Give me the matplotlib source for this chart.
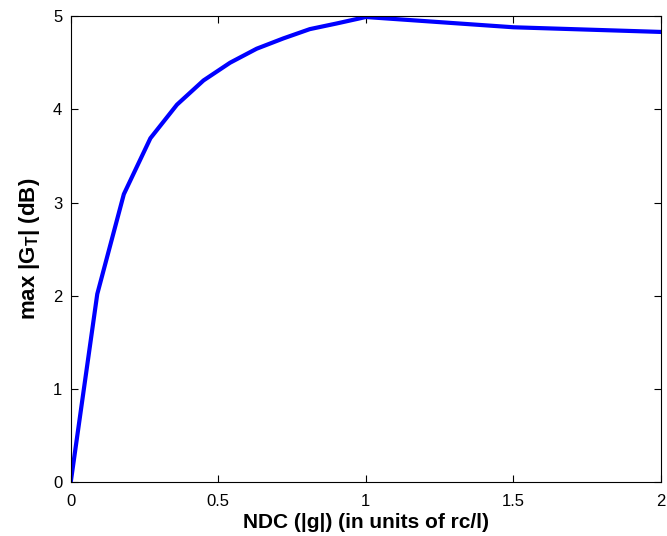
import numpy as np
from matplotlib import pyplot as plt

plt.rcParams['font.family'] = ['Liberation Sans', 'DejaVu Sans']
plt.rcParams['mathtext.fontset'] = 'custom'
plt.rcParams['mathtext.rm'] = 'Liberation Sans'
plt.rcParams['mathtext.bf'] = 'Liberation Sans:bold'

## NDC values (units of rc/l) and max |G_T| in dB
ndc = [0.0, 0.09, 0.18, 0.27, 0.36, 0.45, 0.54, 0.63, 0.72, 0.81, 0.90, 1.0, 1.5, 2.0]
gain_db = [0.0, 2.02, 3.09, 3.69, 4.05, 4.31, 4.50, 4.65, 4.76, 4.86, 4.92, 4.99, 4.88, 4.83]

xticks = [0, 0.5, 1, 1.5, 2]
xtick_labels = ['0', '0.5', '1', '1.5', '2']
yticks = [0, 1, 2, 3, 4, 5]

fig = plt.figure(figsize=(6.67, 5.36), dpi=100)
ax = fig.add_axes([0.106, 0.100, 0.885, 0.870])

ax.plot(ndc, gain_db, color=(0, 0, 1), lw=3)

ax.set_xlim(0, 2)
ax.set_ylim(0, 5)
ax.set_xticks(xticks)
ax.set_xticklabels(xtick_labels)
ax.set_yticks(yticks)
ax.tick_params(direction='in', top=True, right=True, labelsize=12, length=5, width=0.8)
ax.tick_params(axis='x', pad=8)
ax.tick_params(axis='y', pad=6)
for s in ax.spines.values():
    s.set_linewidth(0.8)

ax.set_xlabel('NDC (|g|) (in units of rc/l)', fontsize=15, fontweight='bold', labelpad=3)
ax.set_ylabel(r'max |G$_\mathbf{T}$| (dB)', fontsize=16, fontweight='bold', labelpad=8)

fig.savefig('out.png', dpi=100)
